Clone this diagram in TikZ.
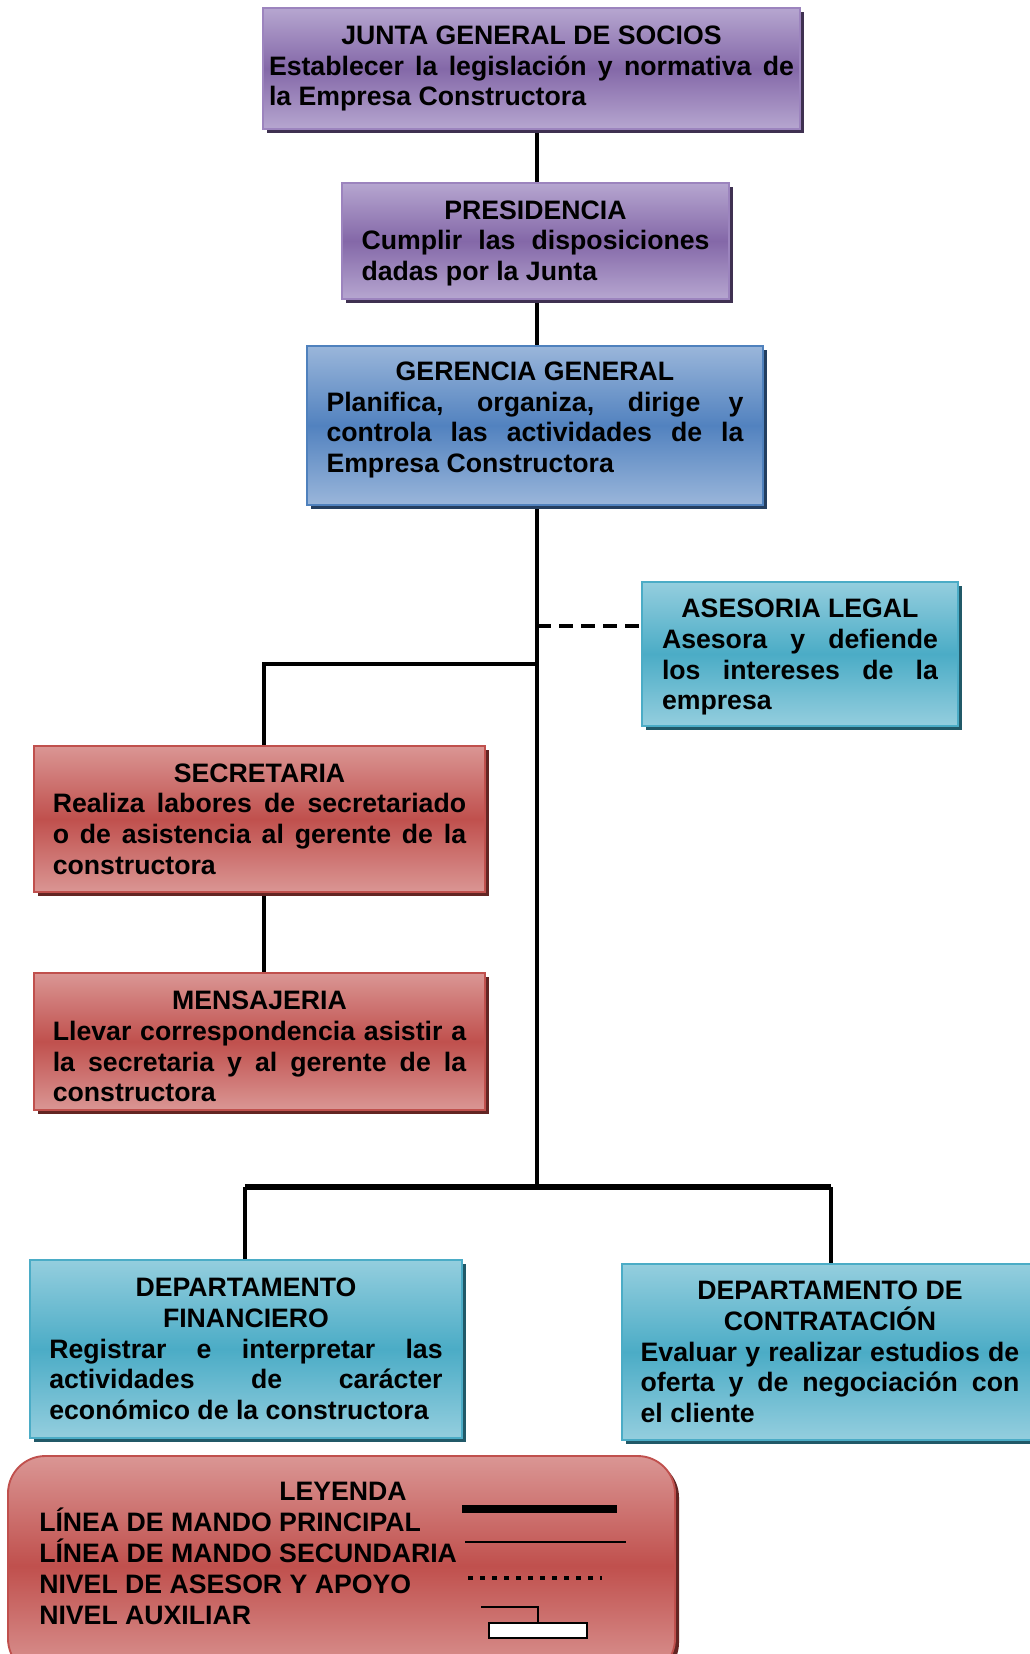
\documentclass[tikz,border=0pt]{standalone}
\usepackage{fontspec}
\setmainfont{Liberation Sans}
\usetikzlibrary{shadows,backgrounds}
\setlength{\parindent}{0pt}

% Office-style accent palettes: light edge tone, dark middle tone, border, shadow
\definecolor{purLight}{HTML}{B6A6D0}
\definecolor{purDark}{HTML}{8468A8}
\definecolor{purEdge}{HTML}{9C84BE}
\definecolor{purShadow}{HTML}{3F3151}
\definecolor{bluLight}{HTML}{9AB6DA}
\definecolor{bluDark}{HTML}{5282BF}
\definecolor{bluEdge}{HTML}{4F81BD}
\definecolor{bluShadow}{HTML}{243F60}
\definecolor{aquaLight}{HTML}{94CEDE}
\definecolor{aquaDark}{HTML}{4BACC6}
\definecolor{aquaEdge}{HTML}{4BACC6}
\definecolor{aquaShadow}{HTML}{215968}
\definecolor{redLight}{HTML}{DA9694}
\definecolor{redDark}{HTML}{C0504D}
\definecolor{redEdge}{HTML}{C0504D}
\definecolor{redShadow}{HTML}{632523}

% invisible struts that pad the text block at its top or bottom
\newcommand{\toppad}[1]{\rule{0pt}{#1}}
\newcommand{\botpad}[1]{\rule[-#1]{0pt}{#1}}

\tikzset{
  boxfont/.style={font=\fontsize{20pt}{23pt}\selectfont\bfseries},
  orgbox/.style={rectangle, line width=1.4pt, inner sep=0pt, align=justify, boxfont},
  boxshadow/.style={drop shadow={shadow xshift=3pt, shadow yshift=-3pt, fill=#1, opacity=1}},
  purplebox/.style={orgbox, draw=purEdge, top color=purLight, bottom color=purLight,
    middle color=purDark, boxshadow=purShadow},
  bluebox/.style={orgbox, draw=bluEdge, top color=bluLight, bottom color=bluLight,
    middle color=bluDark, boxshadow=bluShadow},
  aquabox/.style={orgbox, draw=aquaEdge, top color=aquaLight, bottom color=aquaLight,
    middle color=aquaDark, boxshadow=aquaShadow},
  redbox/.style={orgbox, draw=redEdge, top color=redLight, bottom color=redLight,
    middle color=redDark, boxshadow=redShadow},
  mainline/.style={line width=2.4pt, black},
  barline/.style={line width=4pt, black},
  adviceline/.style={line width=2.4pt, black, dash pattern=on 10.5pt off 6pt},
  legtext/.style={boxfont, inner sep=0pt},
}

\begin{document}
\begin{tikzpicture}[x=0.75pt, y=-0.75pt]
\useasboundingbox (0,0) rectangle (1029,1654);

% ---- organisational units ----
\node[purplebox, minimum width=402.75pt, minimum height=90.75pt, text width=393.75pt]
  (junta) at (531.5,68.5)
  {{\centering JUNTA GENERAL DE SOCIOS\par}Establecer la legislación y normativa de\linebreak la Empresa Constructora};

\node[purplebox, minimum width=290.25pt, minimum height=87pt, text width=261pt]
  (pres) at (535.5,241)
  {{\centering\toppad{17.5pt}PRESIDENCIA\par}Cumplir las disposiciones\linebreak dadas por la Junta};

\node[bluebox, minimum width=342pt, minimum height=119.25pt, text width=312.75pt]
  (gg) at (535,425.5)
  {{\centering GERENCIA GENERAL\par}Planifica, organiza, dirige y\linebreak controla las actividades de la\linebreak Empresa Constructora\botpad{12.5pt}};

\node[aquabox, minimum width=237pt, minimum height=108pt, text width=207pt]
  (ases) at (800,654)
  {{\centering\toppad{19pt}ASESORIA LEGAL\par}Asesora y defiende\linebreak los intereses de la\linebreak empresa};

\node[redbox, minimum width=338.25pt, minimum height=109.5pt, text width=310pt]
  (sec) at (259.5,819)
  {{\centering SECRETARIA\par}Realiza labores de secretariado\linebreak o de asistencia al gerente de la\linebreak constructora};

\node[redbox, minimum width=338.25pt, minimum height=102.75pt, text width=310pt]
  (men) at (259.5,1041.5)
  {{\centering\toppad{21.8pt}MENSAJERIA\par}Llevar correspondencia asistir a\linebreak la secretaria y al gerente de la\linebreak constructora};

\node[aquabox, minimum width=324pt, minimum height=133.5pt, text width=295pt]
  (fin) at (246,1349)
  {{\centering DEPARTAMENTO\\FINANCIERO\par}Registrar e interpretar las\linebreak actividades de carácter\linebreak económico de la constructora};

\node[aquabox, minimum width=312pt, minimum height=132pt, text width=284pt]
  (con) at (830,1352)
  {{\centering DEPARTAMENTO DE\\CONTRATACIÓN\par}Evaluar y realizar estudios de\linebreak oferta y de negociación con\linebreak el cliente};

% ---- lines of command (behind the boxes) ----
\coordinate (trunk) at (537,0);
\coordinate (barL) at (245,1187);
\coordinate (barR) at (831,1187);
\coordinate (secjoin) at (264,664);
\coordinate (advy) at (0,626);
\begin{scope}[on background layer]
  \draw[mainline] (junta.south -| trunk) -- (pres.north -| trunk);
  \draw[mainline] (pres.south -| trunk) -- (gg.north -| trunk);
  \draw[mainline] (gg.south -| trunk) -- (barL -| trunk);
  \draw[adviceline] (trunk |- advy) -- (ases.west |- advy);
  \draw[mainline] (trunk |- secjoin) -- (secjoin) -- (sec.north -| secjoin);
  \draw[mainline] (sec.south -| secjoin) -- (men.north -| secjoin);
  \draw[barline] (barL) -- (barR);
  \draw[mainline] (barL) -- (fin.north -| barL);
  \draw[mainline] (barR) -- (con.north -| barR);
\end{scope}

% ---- legend ----
\node[rectangle, rounded corners=28pt, line width=1.4pt, draw=redEdge,
  top color=redLight, bottom color=redLight, middle color=redDark,
  boxshadow=redShadow, minimum width=500.25pt, minimum height=165pt]
  (ley) at (341.5,1566) {};
\node[legtext, anchor=base] (leyt) at (343,1500.5) {LEYENDA};
\node[legtext, anchor=base west] (l1) at (39,1531.5) {LÍNEA DE MANDO PRINCIPAL};
\node[legtext, anchor=base west] (l2) at (39,1562.5) {LÍNEA DE MANDO SECUNDARIA};
\node[legtext, anchor=base west] (l3) at (39,1593.5) {NIVEL DE ASESOR Y APOYO};
\node[legtext, anchor=base west] (l4) at (39,1624.5) {NIVEL AUXILIAR};

\draw[line width=6pt] (462,1509) -- (617,1509);
\draw[line width=1.2pt] (465,1542) -- (626,1542);
\draw[line width=3pt, dash pattern=on 3.75pt off 5.25pt] (468,1578) -- (602,1578);
\node[rectangle, draw, line width=1.2pt, fill=white, minimum width=73.5pt,
  minimum height=11.25pt, inner sep=0pt] (aux) at (538,1630.5) {};
\draw[line width=1.2pt] (481,1607) -- (538,1607) -- (aux.north);
\end{tikzpicture}
\end{document}
